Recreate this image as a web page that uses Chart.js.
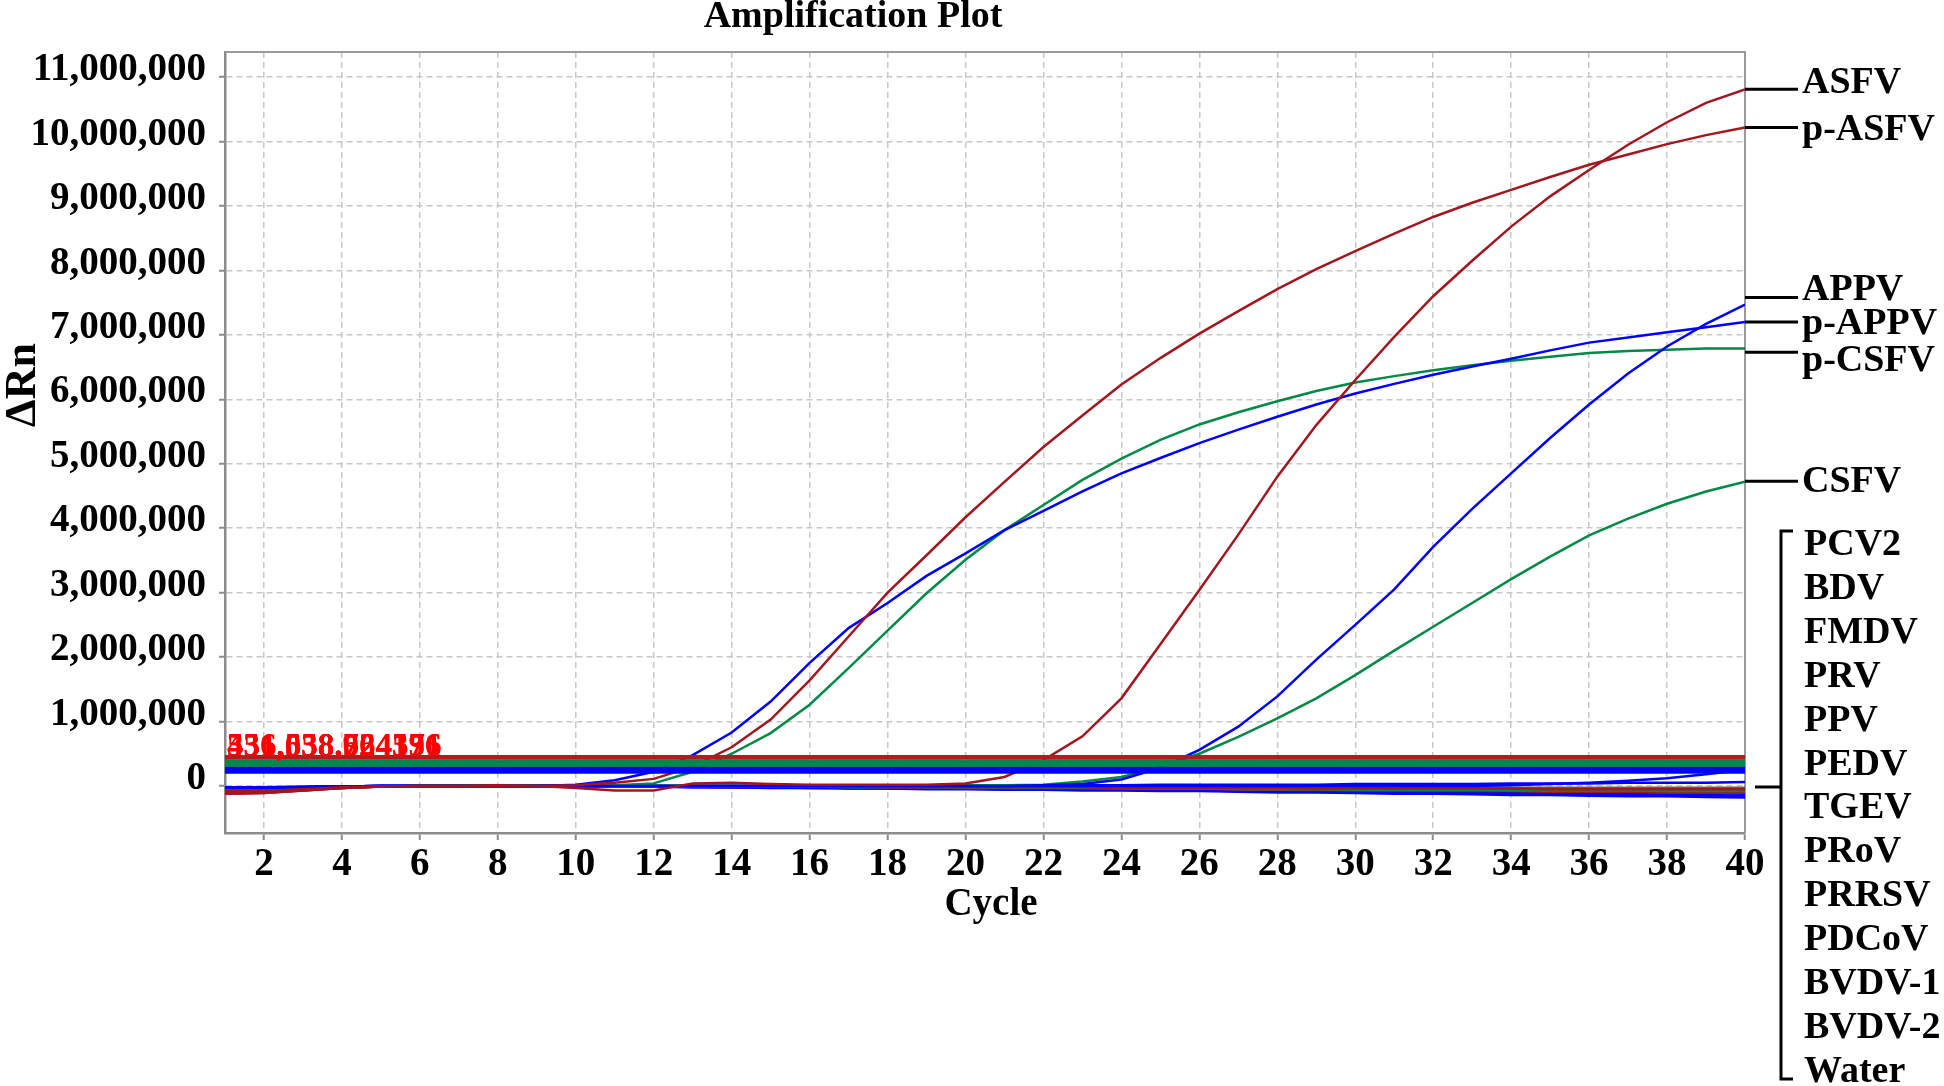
<!DOCTYPE html>
<html><head><meta charset="utf-8">
<script src="https://cdn.jsdelivr.net/npm/chart.js@4.4.1/dist/chart.umd.min.js"></script>
<style>html,body{margin:0;padding:0;background:#fff;} canvas{display:block;}</style>
</head><body>
<canvas id="c" width="1944" height="1086"></canvas>
<script>
// ---- data (ΔRn in millions) ----
const cycles = [1,2,3,4,5,6,7,8,9,10,11,12,13,14,15,16,17,18,19,20,21,22,23,24,25,26,27,28,29,30,31,32,33,34,35,36,37,38,39,40];
const xTicks = [2,4,6,8,10,12,14,16,18,20,22,24,26,28,30,32,34,36,38,40];
const yTicks = [0,1,2,3,4,5,6,7,8,9,10,11];

const ASFV = [-0.12,-0.11,-0.07,-0.03,-0.01,0,0,0.01,0,-0.03,
  -0.07,-0.07,0.04,0.05,0.03,0.02,0.02,0.02,0.02,0.04,
  0.14,0.4,0.77,1.36,2.2,3.04,3.9,4.8,5.6,6.3,
  6.97,7.6,8.15,8.68,9.15,9.56,9.95,10.3,10.6,10.81];
const pASFV = [-0.08,-0.08,-0.05,-0.02,-0.01,0,0,0,0,0.01,
  0.05,0.11,0.3,0.6,1.03,1.64,2.32,3.0,3.58,4.17,
  4.72,5.26,5.75,6.23,6.64,7.02,7.37,7.71,8.02,8.3,
  8.57,8.83,9.05,9.25,9.45,9.64,9.8,9.96,10.1,10.22];
const APPV = [-0.03,-0.03,-0.02,-0.01,0,0,0,0,0,0,
  0,0,0,0,0,0,0,0,0,0,
  0,0.01,0.03,0.1,0.28,0.56,0.92,1.39,1.96,2.5,
  3.05,3.71,4.3,4.85,5.4,5.92,6.4,6.82,7.17,7.47];
const pAPPV = [-0.02,-0.02,-0.01,-0.01,0,0,0,0,0,0.02,
  0.09,0.22,0.48,0.83,1.31,1.91,2.45,2.84,3.26,3.61,
  3.97,4.27,4.57,4.85,5.09,5.32,5.53,5.73,5.92,6.09,
  6.24,6.38,6.51,6.63,6.76,6.88,6.96,7.04,7.12,7.2];
const CSFV = [-0.06,-0.06,-0.04,-0.02,-0.01,0,0,0,0,0,
  0,0,0,0,0,0,0,0,0,0.01,
  0.01,0.02,0.07,0.14,0.3,0.5,0.76,1.05,1.36,1.72,
  2.1,2.47,2.84,3.21,3.56,3.89,4.15,4.38,4.57,4.72];
const pCSFV = [-0.05,-0.05,-0.03,-0.02,-0.01,0,0,0,0,0,
  0.01,0.04,0.22,0.5,0.82,1.26,1.83,2.41,2.99,3.51,
  3.97,4.36,4.75,5.08,5.37,5.61,5.8,5.97,6.13,6.26,
  6.36,6.45,6.53,6.6,6.66,6.72,6.75,6.77,6.79,6.79];

const PCV2 = [-0.03,-0.03,-0.02,-0.01,0,0,0,0,0,0, 0,0,0,0,0,0,0,0,0,0, 0,0,0,0,0,0,0,0,0,0, 0,0,0,0.01,0.03,0.05,0.08,0.12,0.18,0.25];
const BDV = [-0.12,-0.11,-0.07,-0.03,-0.01,0,0,0.01,0,0, 0,0,-0.01,-0.01,-0.01,-0.01,-0.01,-0.02,-0.02,-0.02, -0.02,-0.02,-0.02,-0.03,-0.03,-0.03,-0.03,-0.03,-0.04,-0.04, -0.04,-0.04,-0.04,-0.04,-0.05,-0.05,-0.05,-0.05,-0.05,-0.05];
const FMDV = [-0.06,-0.06,-0.04,-0.02,-0.01,0,0,0,0,0, 0,0,0,-0.01,-0.01,-0.01,-0.02,-0.02,-0.02,-0.03, -0.03,-0.03,-0.03,-0.04,-0.04,-0.04,-0.05,-0.05,-0.05,-0.06, -0.06,-0.06,-0.06,-0.07,-0.07,-0.07,-0.07,-0.08,-0.08,-0.08];
const PRV = [-0.02,-0.03,-0.02,-0.01,0,0,0,0,0,0, 0,-0.01,-0.02,-0.02,-0.03,-0.03,-0.04,-0.04,-0.05,-0.05, -0.06,-0.06,-0.07,-0.07,-0.08,-0.08,-0.09,-0.1,-0.1,-0.11, -0.12,-0.12,-0.13,-0.14,-0.14,-0.15,-0.16,-0.16,-0.17,-0.18];
const PPV = [-0.09,-0.09,-0.06,-0.03,-0.01,0,0,0,0,0, -0.01,-0.01,-0.01,-0.02,-0.02,-0.02,-0.03,-0.03,-0.03,-0.04, -0.04,-0.04,-0.05,-0.05,-0.05,-0.06,-0.06,-0.06,-0.07,-0.07, -0.07,-0.08,-0.08,-0.08,-0.09,-0.09,-0.09,-0.1,-0.1,-0.1];
const PEDV = [-0.05,-0.05,-0.03,-0.02,-0.01,0,0,0,0,0, 0,0,0,0,-0.01,-0.01,-0.01,-0.01,-0.01,-0.02, -0.02,-0.02,-0.02,-0.02,-0.02,-0.03,-0.03,-0.03,-0.03,-0.03, -0.03,-0.03,-0.04,-0.04,-0.04,-0.04,-0.04,-0.04,-0.04,-0.04];
const TGEV = [-0.03,-0.03,-0.02,-0.01,0,0,0,0,0,0, 0,0,0,0,0,0,0,0,0.01,0.01, 0.01,0.01,0.01,0.01,0.02,0.02,0.02,0.02,0.02,0.03, 0.03,0.03,0.03,0.04,0.04,0.04,0.05,0.05,0.05,0.06];
const PRoV = [-0.1,-0.1,-0.06,-0.03,-0.01,0,0,0,0,-0.01, -0.01,-0.01,-0.01,-0.01,-0.02,-0.02,-0.02,-0.02,-0.03,-0.03, -0.03,-0.03,-0.04,-0.04,-0.04,-0.04,-0.05,-0.05,-0.05,-0.05, -0.05,-0.06,-0.06,-0.06,-0.06,-0.06,-0.07,-0.07,-0.07,-0.07];
const PRRSV = [-0.07,-0.07,-0.05,-0.02,-0.01,0,0,0,0,0, 0,0,0,0,0,-0.01,-0.01,-0.01,-0.01,-0.01, -0.01,-0.01,-0.02,-0.02,-0.02,-0.02,-0.02,-0.02,-0.02,-0.02, -0.03,-0.03,-0.03,-0.03,-0.03,-0.03,-0.03,-0.03,-0.03,-0.03];
const PDCoV = [-0.03,-0.03,-0.02,-0.01,0,0,0,0,0,0, -0.01,-0.01,-0.02,-0.02,-0.02,-0.03,-0.03,-0.04,-0.04,-0.04, -0.05,-0.05,-0.06,-0.06,-0.07,-0.07,-0.08,-0.08,-0.09,-0.09, -0.1,-0.1,-0.11,-0.11,-0.12,-0.12,-0.13,-0.14,-0.14,-0.15];
const BVDV1 = [-0.11,-0.1,-0.07,-0.03,-0.01,0,0,0,0,0, 0,0,0,0,0,0,-0.01,-0.01,-0.01,-0.01, -0.01,-0.01,-0.01,-0.02,-0.02,-0.02,-0.02,-0.02,-0.02,-0.02, -0.02,-0.03,-0.03,-0.03,-0.03,-0.03,-0.03,-0.03,-0.03,-0.03];
const BVDV2 = [-0.06,-0.06,-0.04,-0.02,-0.01,0,0,0,0,0, -0.01,-0.01,-0.01,-0.02,-0.02,-0.02,-0.03,-0.03,-0.03,-0.04, -0.04,-0.04,-0.05,-0.05,-0.05,-0.06,-0.06,-0.06,-0.07,-0.07, -0.07,-0.08,-0.08,-0.08,-0.09,-0.09,-0.09,-0.1,-0.1,-0.1];
const Water = [-0.03,-0.03,-0.02,-0.01,0,0,0,0,0,0, -0.01,-0.01,-0.01,-0.02,-0.02,-0.02,-0.03,-0.03,-0.03,-0.04, -0.04,-0.04,-0.05,-0.05,-0.05,-0.06,-0.06,-0.06,-0.07,-0.07, -0.08,-0.08,-0.08,-0.09,-0.09,-0.1,-0.1,-0.11,-0.11,-0.12];

const thresholdValues = [0.446, 0.357, 0.246];
const thresholdLabels = ["551,038.724176", "331,558.924396", "436,638.664531"];
const positiveNames = ["ASFV","p-ASFV","APPV","p-APPV","p-CSFV","CSFV"];
const positiveLabelValues = [10.81, 10.22, 7.58, 7.2, 6.73, 4.73];
const negativeNames = ["PCV2","BDV","FMDV","PRV","PPV","PEDV","TGEV","PRoV","PRRSV","PDCoV","BVDV-1","BVDV-2","Water"];

// ---- styles ----
const RED = '#a3161f', BLUE = '#0000ff', GREEN = '#008a46';
const SERIF = '"Liberation Serif", "Times New Roman", serif';

function pts(arr){ return cycles.map((c,i)=>({x:c, y:arr[i]})); }
function thr(v){ return [{x:cycles[0], y:v},{x:cycles[cycles.length-1], y:v}]; }

const datasets = [
  {label:'thr-red', data:thr(thresholdValues[0]), borderColor:'#b01c22', borderWidth:4.5},
  {label:'thr-green', data:thr(thresholdValues[1]), borderColor:GREEN, borderWidth:7.5},
  {label:'thr-blue', data:thr(thresholdValues[2]), borderColor:BLUE, borderWidth:7.5},
  {label:'ASFV', data:pts(ASFV), borderColor:RED},
  {label:'p-ASFV', data:pts(pASFV), borderColor:RED},
  {label:'APPV', data:pts(APPV), borderColor:BLUE},
  {label:'p-APPV', data:pts(pAPPV), borderColor:BLUE},
  {label:'CSFV', data:pts(CSFV), borderColor:GREEN},
  {label:'p-CSFV', data:pts(pCSFV), borderColor:GREEN},
  {label:'PCV2', data:pts(PCV2), borderColor:BLUE},
  {label:'BDV', data:pts(BDV), borderColor:RED},
  {label:'FMDV', data:pts(FMDV), borderColor:GREEN},
  {label:'PRV', data:pts(PRV), borderColor:BLUE},
  {label:'PPV', data:pts(PPV), borderColor:RED},
  {label:'PEDV', data:pts(PEDV), borderColor:GREEN},
  {label:'TGEV', data:pts(TGEV), borderColor:BLUE},
  {label:'PRoV', data:pts(PRoV), borderColor:RED},
  {label:'PRRSV', data:pts(PRRSV), borderColor:GREEN},
  {label:'PDCoV', data:pts(PDCoV), borderColor:BLUE},
  {label:'BVDV-1', data:pts(BVDV1), borderColor:RED},
  {label:'BVDV-2', data:pts(BVDV2), borderColor:GREEN},
  {label:'Water', data:pts(Water), borderColor:BLUE}
];

const annot = {
  id:'annot',
  beforeDatasetsDraw(chart){
    const {ctx, chartArea:a} = chart;
    ctx.save();
    ctx.strokeStyle = '#9a9a9a'; ctx.lineWidth = 2;
    ctx.beginPath();
    ctx.moveTo(a.left, a.top); ctx.lineTo(a.right, a.top); ctx.lineTo(a.right, a.bottom);
    ctx.stroke();
    ctx.restore();
  },
  afterDatasetsDraw(chart){
    const {ctx, chartArea:a} = chart;
    ctx.save();
    ctx.font = 'bold 33px ' + SERIF;
    ctx.fillStyle = '#ff0000';
    ctx.textAlign = 'left'; ctx.textBaseline = 'alphabetic';
    thresholdLabels.forEach(t => ctx.fillText(t, a.left + 2, 756));
    ctx.restore();
  },
  afterDraw(chart){
    const {ctx, chartArea:a, scales} = chart;
    const ys = scales.y;
    ctx.save();
    ctx.fillStyle = '#000';
    // title
    ctx.font = 'bold 38px ' + SERIF;
    ctx.textAlign = 'center'; ctx.textBaseline = 'middle';
    ctx.fillText('Amplification Plot', 853, 17);
    // x title
    ctx.font = 'bold 39px ' + SERIF;
    ctx.fillText('Cycle', 991, 905);
    // y title
    ctx.save();
    ctx.translate(24, 385);
    ctx.rotate(-Math.PI/2);
    ctx.font = 'bold 44px ' + SERIF;
    ctx.fillText('ΔRn', 0, 0);
    ctx.restore();
    // positive labels with leader lines
    const textDy = [-9, 0, -11, -1, 6, -2];
    ctx.strokeStyle = '#000'; ctx.lineWidth = 3;
    ctx.font = 'bold 38px ' + SERIF;
    ctx.textAlign = 'left'; ctx.textBaseline = 'alphabetic';
    positiveNames.forEach((n,i)=>{
      const y = ys.getPixelForValue(positiveLabelValues[i]);
      ctx.beginPath(); ctx.moveTo(a.right, y); ctx.lineTo(a.right + 53, y); ctx.stroke();
      ctx.fillText(n, a.right + 57, y + textDy[i] + 13);
    });
    // negative list
    negativeNames.forEach((n,i)=>{
      ctx.fillText(n, 1804, 542 + i*43.9 + 13);
    });
    // bracket
    ctx.beginPath();
    ctx.moveTo(1793, 531); ctx.lineTo(1781, 531); ctx.lineTo(1781, 1079); ctx.lineTo(1793, 1079);
    ctx.moveTo(1755, 787); ctx.lineTo(1781, 787);
    ctx.stroke();
    ctx.restore();
  }
};

const tickFont = {family: SERIF, weight:'bold', size:39};

new Chart(document.getElementById('c'), {
  type:'line',
  data:{datasets},
  options:{
    responsive:false, animation:false, devicePixelRatio:1,
    layout:{padding:{top:52, right:199, bottom:0, left:0}},
    plugins:{legend:{display:false}, tooltip:{enabled:false}, title:{display:false}},
    elements:{point:{radius:0}, line:{tension:0, borderWidth:2.5, fill:false}},
    scales:{
      x:{
        type:'linear', min:1, max:40,
        afterBuildTicks: s => { s.ticks = xTicks.map(v=>({value:v})); },
        afterFit: s => { s.height = 253; },
        grid:{color:'#c8c8c8', lineWidth:1.5, tickColor:'#8c8c8c', tickLength:7, tickWidth:2},
        border:{display:true, color:'#8c8c8c', width:2.5, dash:[6,4]},
        ticks:{font:tickFont, color:'#000', padding:2, maxRotation:0, autoSkip:false, callback:v=>String(v)}
      },
      y:{
        type:'linear', min:-0.73, max:11.39,
        afterBuildTicks: s => { s.ticks = yTicks.map(v=>({value:v})); },
        afterFit: s => { s.width = 225; },
        grid:{color:'#c8c8c8', lineWidth:1.5, tickColor:'#8c8c8c', tickLength:6, tickWidth:2},
        border:{display:true, color:'#8c8c8c', width:2.5, dash:[6,4]},
        ticks:{font:tickFont, color:'#000', padding:13, labelOffset:-7, autoSkip:false,
          callback:v=>Math.round(v*1e6).toLocaleString('en-US')}
      }
    }
  },
  plugins:[annot]
});
</script>
</body></html>
